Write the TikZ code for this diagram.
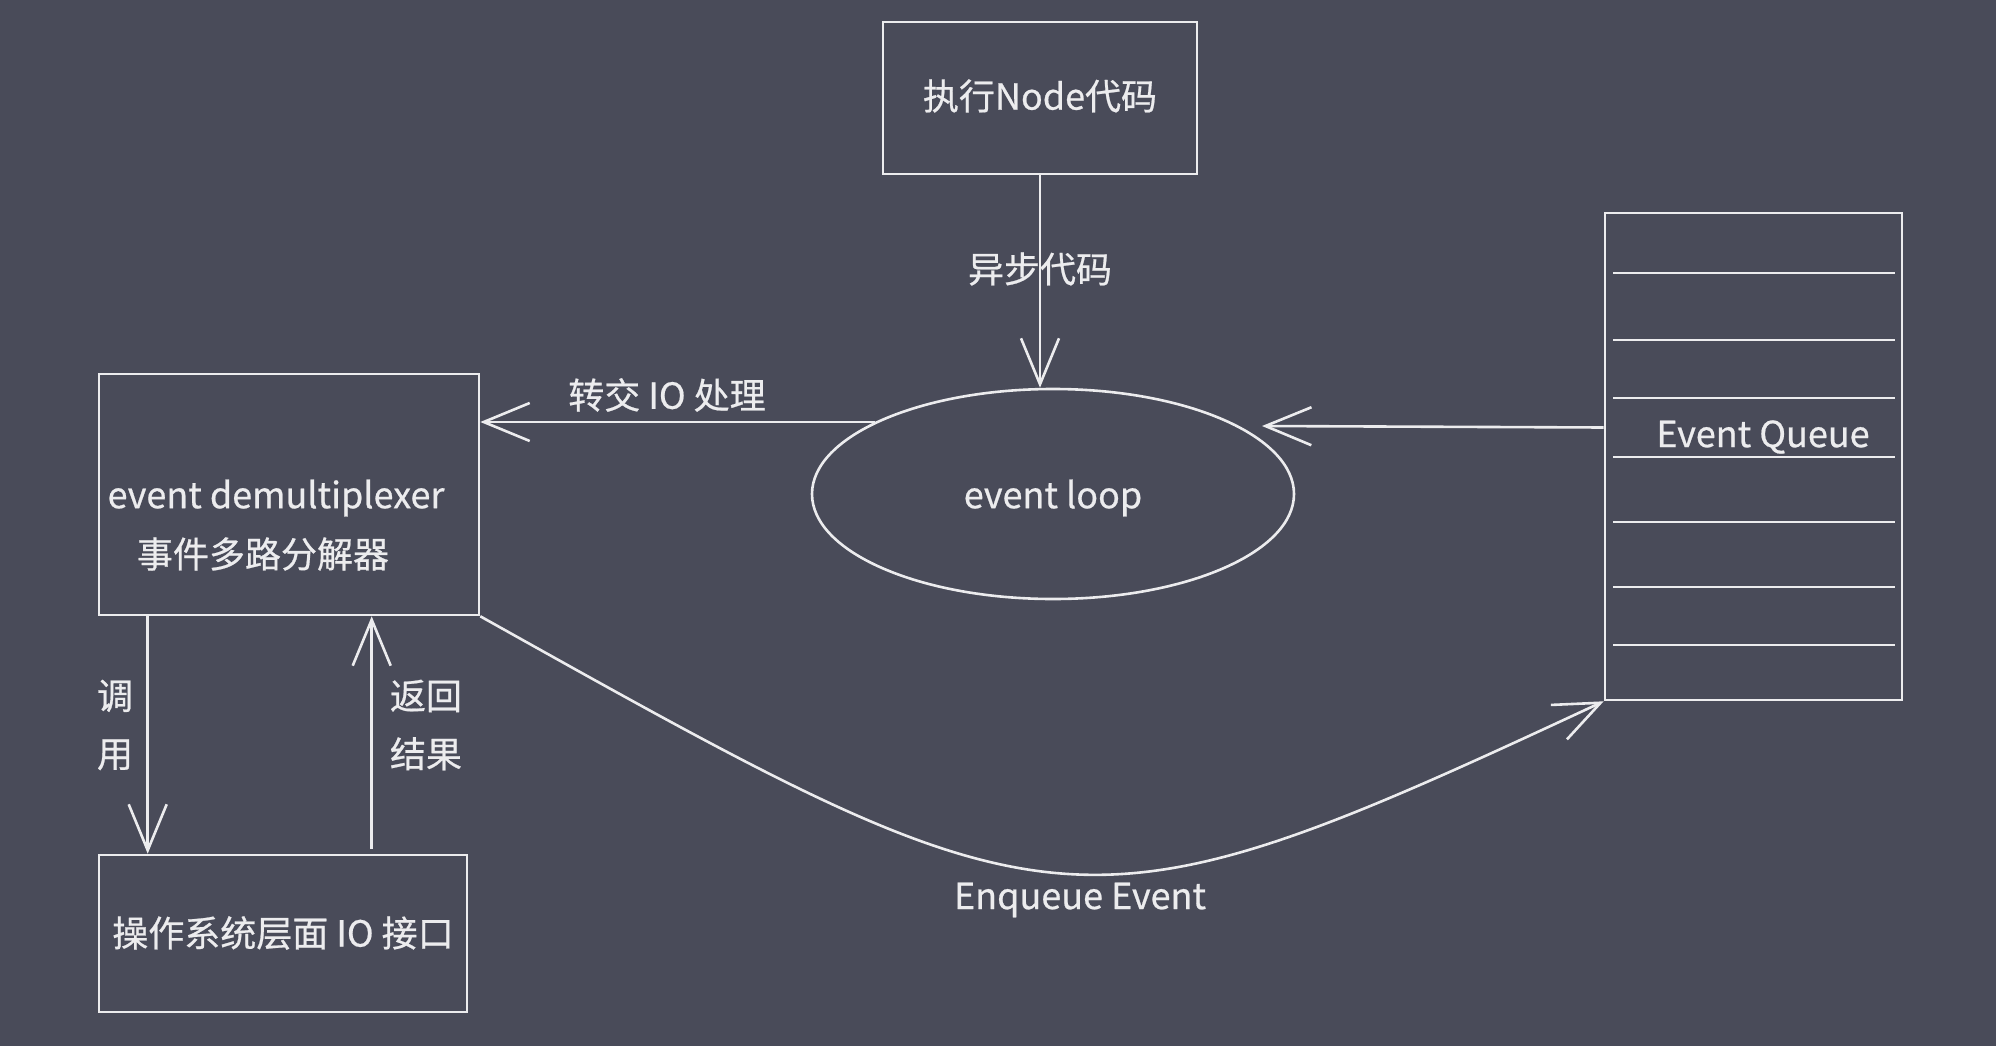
\documentclass[tikz,border=0pt]{standalone}
\usepackage{fontspec}
\setmainfont{Noto Sans CJK SC}[FakeBold=0.6]
\usetikzlibrary{arrows.meta,shapes.geometric}
\definecolor{bg}{RGB}{73,75,89}
\definecolor{ink}{RGB}{236,236,238}
\tikzset{
  box/.style={draw=ink, line width=2.6pt, minimum width=#1, inner sep=0pt},
  oval/.style={draw=ink, line width=2.6pt, ellipse, inner sep=0pt},
  txt/.style={text=ink, font=\fontsize{36}{58}\selectfont, inner sep=0pt, align=center},
  arr/.style={draw=ink, line width=2.6pt, -{Straight Barb[length=46pt,width=38pt,line width=2.6pt]}},
  qline/.style={draw=ink, line width=2.6pt}
}
\begin{document}
\begin{tikzpicture}[x=1pt,y=-1pt]
\fill[bg] (0,0) rectangle (1996,1046);
\useasboundingbox (0,0) rectangle (1996,1046);

% nodes
\node[box=314pt, minimum height=152pt] (exec) at (1040,98) {};
\node[txt] (exect) at (1040,96) {执行Node代码};

\node[oval, minimum width=482pt, minimum height=210pt] (loop) at (1053,494) {};
\node[txt] (loopt) at (1053,498) {event loop};

\node[box=380pt, minimum height=241pt] (demux) at (289,494.5) {};
\node[txt] (demuxa) at (276,498) {event demultiplexer};
\node[txt] (demuxb) at (263,554) {事件多路分解器};

\node[box=368pt, minimum height=157pt] (os) at (283,933.5) {};
\node[txt] (ost) at (283,933) {操作系统层面 IO 接口};

\node[box=297pt, minimum height=487pt] (queue) at (1753.5,456.5) {};
\node[txt] (queuet) at (1763,437) {Event Queue};

% queue slots
\foreach \y/\n in {273/a,340/b,398/c,457/d,522/e,587/f,645/g}{
  \coordinate (ql\n) at (1613,\y);
  \coordinate (qr\n) at (1895,\y);
  \draw[qline] (ql\n) -- (qr\n);
}

% connectors
\draw[arr] (exec.south) -- (exec.south |- loop.north);
\node[txt] (asynct) at (1040,269) {异步代码};

\draw[arr] (loop.158) -- (demux.east |- loop.158);
\node[txt] (handt) at (667,395) {转交 IO 处理};

\coordinate (qin) at ([yshift=29pt]queue.west);
\coordinate (qout) at (1262,426);
\draw[arr] (qin) -- (qout);

\coordinate (callx) at ([xshift=50pt]demux.south west);
\draw[arr] (callx) -- (callx |- os.north);
\node[txt] (callt) at (115,725) {调\\用};

\coordinate (retx) at ([xshift=274pt,yshift=5pt]os.north west);
\draw[arr] (retx) -- (retx |- demux.south);
\node[txt] (rett) at (426,725) {返回\\结果};

\draw[arr] (demux.south east) .. controls (1059,940) and (1072,949) .. (queue.south west);
\node[txt] (enqt) at (1080,900) {Enqueue Event};
\end{tikzpicture}
\end{document}
